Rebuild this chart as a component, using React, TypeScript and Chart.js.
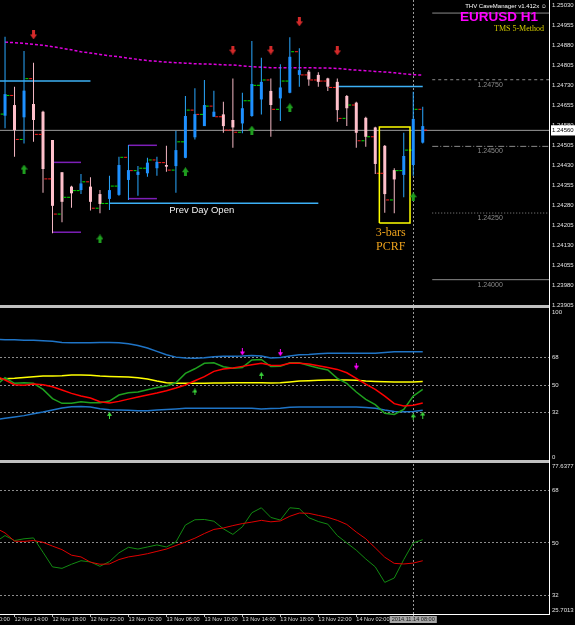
import { useEffect, useRef } from 'react';
import { Chart, registerables } from 'chart.js';

Chart.register(...registerables);

const FONT = '"Liberation Sans", Arial, sans-serif';
const SERIF = '"Liberation Serif", "Times New Roman", serif';

// ---------- time axis: one slot per H1 bar, bar 0 = 12 Nov 13:00 ----------
const X_MIN = -0.53;
const X_MAX = 57.3;
const X_TICK_BARS = [-3, 1, 5, 9, 13, 17, 21, 25, 29, 33, 37, 43];
const X_TICK_LABELS = [
  '12 Nov 10:00', '12 Nov 14:00', '12 Nov 18:00', '12 Nov 22:00', '13 Nov 02:00', '13 Nov 06:00',
  '13 Nov 10:00', '13 Nov 14:00', '13 Nov 18:00', '13 Nov 22:00', '14 Nov 02:00', '',
];
const CURSOR_BAR = 43;
const CURSOR_LABEL = '2014.11.14 08:00';

// ---------- price window ----------
const PRICE_MIN = 1.23905;
const PRICE_MAX = 1.25049;
const PRICE_TICKS = [
  1.23905, 1.2398, 1.24055, 1.2413, 1.24205, 1.2428, 1.24355, 1.2443,
  1.24505, 1.2458, 1.24655, 1.2473, 1.24805, 1.2488, 1.24955, 1.2503,
];
const BID_PRICE = 1.2456;

// Heiken Ashi candles
const HA_HIGH = [1.24911, 1.24724, 1.24858, 1.24814, 1.24634, 1.24524, 1.24403, 1.24352, 1.24396, 1.24384, 1.24336, 1.2439, 1.24461, 1.24505, 1.24426, 1.24457, 1.24461, 1.24502, 1.24559, 1.24689, 1.24718, 1.24749, 1.24709, 1.24667, 1.24755, 1.24701, 1.24895, 1.24832, 1.24755, 1.24808, 1.24909, 1.24868, 1.24786, 1.24778, 1.24757, 1.24755, 1.24693, 1.24667, 1.24611, 1.24574, 1.24505, 1.24418, 1.24551, 1.24705, 1.24649];
const HA_LOW = [1.24568, 1.24461, 1.24511, 1.24517, 1.24326, 1.24174, 1.24215, 1.2427, 1.24321, 1.24259, 1.24249, 1.24261, 1.24315, 1.24299, 1.24315, 1.24386, 1.2439, 1.24405, 1.24326, 1.24455, 1.24526, 1.24576, 1.24611, 1.24551, 1.24495, 1.24549, 1.24611, 1.2462, 1.24536, 1.24595, 1.24699, 1.24724, 1.24727, 1.24724, 1.24708, 1.24592, 1.24576, 1.24495, 1.24499, 1.24396, 1.24251, 1.24249, 1.24309, 1.2439, 1.24511];
const HA_OPEN = [1.24615, 1.24655, 1.24609, 1.24659, 1.2463, 1.24524, 1.24403, 1.24349, 1.24336, 1.24349, 1.24321, 1.24303, 1.24318, 1.24374, 1.24393, 1.24399, 1.24418, 1.2443, 1.24426, 1.24457, 1.24534, 1.24576, 1.24611, 1.2462, 1.24599, 1.24586, 1.24614, 1.24676, 1.24708, 1.2468, 1.24701, 1.24768, 1.2478, 1.24768, 1.24755, 1.24742, 1.24689, 1.24664, 1.24607, 1.24571, 1.24502, 1.24411, 1.24393, 1.2443, 1.24514];
const HA_CLOSE = [1.24696, 1.24561, 1.24709, 1.24599, 1.24415, 1.24277, 1.24292, 1.24324, 1.24361, 1.24292, 1.24284, 1.24336, 1.2443, 1.24411, 1.24405, 1.24439, 1.24442, 1.24424, 1.24486, 1.24614, 1.24621, 1.24655, 1.2463, 1.24576, 1.24571, 1.24643, 1.24734, 1.24742, 1.24655, 1.24721, 1.24836, 1.24786, 1.24751, 1.24742, 1.24724, 1.24636, 1.24643, 1.24551, 1.24536, 1.24434, 1.24321, 1.24376, 1.24464, 1.24603, 1.24576];

// real bar open / close ticks
const BAR_OPEN = [1.24621, 1.24691, 1.24526, 1.24754, 1.24545, 1.24378, 1.24246, 1.24309, 1.24334, 1.24367, 1.24268, 1.24286, 1.24351, 1.24459, 1.24409, 1.24418, 1.24449, 1.24439, 1.24411, 1.24517, 1.24636, 1.2462, 1.24651, 1.24611, 1.24561, 1.24553, 1.24671, 1.24729, 1.24749, 1.24639, 1.24745, 1.24855, 1.24768, 1.24749, 1.24745, 1.24721, 1.24605, 1.24655, 1.24521, 1.24536, 1.24399, 1.24299, 1.24409, 1.24486, 1.24639];
const BAR_CLOSE = [1.24691, 1.24526, 1.24754, 1.24545, 1.24378, 1.24246, 1.24309, 1.24334, 1.24367, 1.24268, 1.24286, 1.24351, 1.24459, 1.24409, 1.24418, 1.24449, 1.24439, 1.24411, 1.24517, 1.24636, 1.2462, 1.24651, 1.24611, 1.24561, 1.24553, 1.24671, 1.24729, 1.24749, 1.24639, 1.24745, 1.24855, 1.24768, 1.24749, 1.24745, 1.24721, 1.24605, 1.24655, 1.24521, 1.24536, 1.24399, 1.24299, 1.24409, 1.24486, 1.24639, 1.24561];

// moving average (magenta)
const MA_VALUES = [1.24891, 1.24889, 1.24886, 1.24883, 1.24879, 1.24874, 1.24868, 1.24862, 1.24855, 1.2485, 1.24845, 1.2484, 1.24836, 1.24831, 1.24826, 1.24822, 1.24819, 1.24816, 1.24814, 1.24812, 1.2481, 1.24809, 1.24808, 1.24806, 1.24805, 1.24802, 1.24799, 1.24797, 1.24795, 1.24795, 1.24795, 1.24795, 1.24795, 1.24794, 1.24794, 1.24792, 1.24789, 1.24786, 1.24784, 1.24781, 1.24779, 1.24776, 1.24772, 1.24769, 1.24767];

// round-number levels at the right
const LEVEL_PRICES = [1.25, 1.2475, 1.245, 1.2425, 1.24];
const LEVEL_LABELS = ['', '1.24750', '1.24500', '1.24250', '1.24000'];
const LEVEL_DASHES = [[], [3, 3], [6, 2, 1, 2], [1, 2], []];
const LEVEL_FROM_BAR = 45;
const LEVEL_LABEL_BAR = 51.1;

// light blue open levels
const BLUE_LEVEL_PRICES = [1.24745, 1.24725, 1.24287];
const BLUE_LEVEL_FROM = [X_MIN, 35, 11];
const BLUE_LEVEL_TO = [9, 44, 33];
const PDO_TEXT = 'Prev Day Open';
const PDO_LABEL_BAR = 17.3;

// purple range lines
const PURPLE_PRICES = [1.2444, 1.24178, 1.24504, 1.24304];
const PURPLE_FROM = [5, 5, 13, 13];
const PURPLE_TO = [8, 8, 16, 16];

// yellow 3-bar box
const BOX_BARS = [39.43, 42.66];
const BOX_PRICES = [1.24213, 1.24573];
const BOX_TEXT = ['3-bars', 'PCRF'];

// signal arrows on price
const SELL_BARS = [3, 24, 28, 31, 35];
const SELL_PRICES = [1.24918, 1.24861, 1.24861, 1.24967, 1.24858];
const BUY_BARS = [2, 10, 19, 26, 30, 43];
const BUY_PRICES = [1.24415, 1.24153, 1.24405, 1.24561, 1.24645, 1.24311];

// ---------- middle window (0..100), first value = bar -1 ----------
const IND_START = -1;
const MID_BAND_UP = [80.2, 79.9, 79.9, 79.6, 79.6, 79.2, 78.8, 78.1, 77.9, 77.9, 77.9, 78.1, 78.1, 77.9, 77.2, 76.1, 74.4, 72.2, 70.0, 68.4, 67.8, 67.6, 68.0, 68.7, 68.9, 68.9, 69.1, 69.5, 69.1, 67.8, 68.2, 69.1, 70.0, 70.2, 70.6, 70.9, 70.9, 70.9, 70.9, 70.9, 70.9, 71.5, 72.0, 72.0, 72.0, 72.0];
const MID_BAND_LO = [27.2, 28.0, 28.9, 29.8, 31.1, 32.2, 33.5, 34.8, 35.7, 35.9, 35.5, 34.4, 33.7, 33.5, 33.3, 33.1, 33.1, 33.5, 33.9, 34.2, 34.6, 34.6, 34.6, 34.6, 34.6, 34.6, 34.6, 34.6, 34.2, 34.5, 34.6, 35.3, 35.5, 35.5, 35.5, 35.5, 35.5, 35.5, 35.5, 35.1, 34.6, 33.5, 32.6, 32.4, 32.6, 33.3];
const MID_YELLOW = [54.0, 54.2, 54.4, 55.0, 55.5, 55.9, 55.9, 56.1, 56.6, 56.6, 56.4, 55.9, 55.7, 55.5, 55.3, 54.8, 53.9, 52.6, 51.5, 51.1, 51.1, 51.1, 51.1, 51.3, 51.3, 51.5, 51.5, 51.5, 51.5, 51.3, 51.5, 52.0, 52.6, 52.8, 53.1, 53.3, 53.3, 53.3, 53.1, 52.6, 52.4, 52.2, 52.0, 52.0, 52.0, 52.4];
const MID_RED = [56.1, 53.3, 50.2, 49.8, 50.6, 50.2, 48.9, 46.7, 44.5, 42.7, 41.4, 39.0, 38.1, 39.2, 40.7, 42.1, 43.4, 44.7, 46.2, 48.0, 50.0, 52.8, 55.5, 59.0, 60.5, 61.2, 62.3, 63.4, 64.3, 63.0, 62.9, 64.3, 64.3, 63.8, 62.7, 61.6, 60.3, 58.1, 54.4, 50.6, 47.1, 42.7, 37.7, 36.1, 36.6, 38.1];
const MID_GREEN = [49.5, 54.8, 51.1, 51.5, 51.1, 47.1, 41.0, 37.9, 37.9, 39.0, 38.3, 38.3, 39.4, 43.4, 44.9, 45.4, 46.9, 48.4, 49.3, 51.5, 57.7, 60.7, 64.3, 64.7, 62.1, 61.0, 61.6, 66.5, 66.9, 62.2, 62.3, 64.7, 64.7, 62.9, 61.2, 59.9, 54.4, 51.1, 45.4, 40.5, 37.0, 31.3, 30.6, 33.9, 42.7, 47.1];
const MID_SELL_BARS = [25, 29, 37];
const MID_SELL_VALUES = [71.8, 71.3, 62.5];
const MID_BUY_BARS = [11, 20, 27, 43, 44];
const MID_BUY_VALUES = [30.0, 45.4, 56.4, 29.0, 30.2];
const MID_MIN = -0.8;
const MID_MAX = 102.8;
const MID_LEVELS = [32, 50, 68];
const MID_TICK_VALUES = [2.5, 32, 50, 68, 98.18];
const MID_TICK_LABELS = ['0', '32', '50', '68', '100'];

// ---------- bottom window ----------
const STO_MIN = 25.7013;
const STO_MAX = 77.6377;
const STO_GREEN = [50.3, 52.5, 50.8, 51.4, 51.7, 46.8, 41.8, 41.3, 42.7, 43.9, 43.5, 42.0, 43.6, 46.6, 48.5, 47.9, 48.6, 49.3, 48.6, 50.3, 56.1, 57.9, 58.0, 57.4, 54.8, 52.9, 55.5, 60.3, 62.0, 58.7, 57.8, 62.0, 61.7, 58.6, 57.3, 56.4, 52.5, 50.0, 47.5, 44.5, 41.8, 36.5, 38.0, 44.3, 50.0, 51.1];
const STO_RED = [55.1, 53.4, 50.6, 50.5, 50.8, 50.2, 48.9, 47.7, 45.8, 45.2, 43.4, 42.7, 42.8, 44.3, 45.2, 45.7, 46.3, 47.1, 47.9, 49.1, 50.3, 51.6, 53.2, 54.6, 55.1, 55.9, 56.6, 57.1, 57.7, 57.2, 57.5, 59.1, 60.2, 60.1, 59.4, 58.7, 57.7, 56.3, 53.7, 51.4, 48.3, 45.1, 43.0, 42.8, 43.1, 43.9];
const STO_LEVELS = [32, 50, 68];
const STO_TICK_VALUES = [26.83, 32, 50, 68, 76.03];
const STO_TICK_LABELS = ['25.7013', '32', '50', '68', '77.6377'];

const SYMBOL_TITLE = 'EURUSD H1';
const INDICATOR_TITLE = 'THV CaveManager v1.412x ☺';
const METHOD_TITLE = 'TMS 5-Method';

const BULL = '#1e90ff';
const BULL_WICK = '#2aa8ff';
const BEAR = '#ffc0cb';
const BEAR_WICK = '#f3b7c3';

function makeArrow(color: string, dir: 'up' | 'down', w: number, h: number) {
  const c = document.createElement('canvas');
  c.width = w;
  c.height = h;
  const g = c.getContext('2d')!;
  g.fillStyle = color;
  const head = Math.round(h * 0.5);
  const s0 = Math.round(w * 0.3);
  const s1 = w - s0;
  g.beginPath();
  if (dir === 'up') {
    g.moveTo(w / 2, 0); g.lineTo(w, head); g.lineTo(s1, head); g.lineTo(s1, h);
    g.lineTo(s0, h); g.lineTo(s0, head); g.lineTo(0, head);
  } else {
    g.moveTo(w / 2, h); g.lineTo(w, h - head); g.lineTo(s1, h - head); g.lineTo(s1, 0);
    g.lineTo(s0, 0); g.lineTo(s0, h - head); g.lineTo(0, h - head);
  }
  g.closePath();
  g.fill();
  return c;
}

function seg(x0: number, x1: number, y: number, color: string, width: number, dash: number[], axis: string, order: number) {
  return {
    type: 'line', data: [{ x: x0, y }, { x: x1, y }], borderColor: color, borderWidth: width,
    borderDash: dash, pointRadius: 0, yAxisID: axis, xAxisID: 'x', order, fill: false, tension: 0,
  };
}

function series(values: number[], color: string, width: number, axis: string, order: number, dash: number[] = []) {
  return {
    type: 'line', data: values.map((v, k) => ({ x: k + IND_START, y: v })), borderColor: color,
    borderWidth: width, borderDash: dash, pointRadius: 0, yAxisID: axis, xAxisID: 'x', order, fill: false, tension: 0,
  };
}

function arrows(bars: number[], vals: number[], img: HTMLCanvasElement, axis: string) {
  return {
    type: 'scatter', data: bars.map((b, k) => ({ x: b, y: vals[k] })), pointStyle: img, pointRadius: 4,
    yAxisID: axis, xAxisID: 'x', order: 5,
  };
}

const overlayPlugin = {
  id: 'mt4Overlay',
  afterDraw(chart: any) {
    const { ctx, chartArea: a, scales } = chart;
    const sx = scales.x, sp = scales.yP, sm = scales.yM, sb = scales.yB;
    ctx.save();
    ctx.fillStyle = '#c0c0c0';
    ctx.fillRect(a.left, sm.top, a.right - a.left, 3);
    ctx.fillRect(a.left, sb.top - 2, a.right - a.left, 3);

    ctx.textAlign = 'center';
    ctx.textBaseline = 'middle';
    ctx.font = `7px ${FONT}`;
    ctx.fillStyle = '#8c8c8c';
    LEVEL_PRICES.forEach((p, k) => {
      if (LEVEL_LABELS[k]) ctx.fillText(LEVEL_LABELS[k], sx.getPixelForValue(LEVEL_LABEL_BAR), sp.getPixelForValue(p) + 5);
    });

    ctx.textAlign = 'left';
    ctx.font = `9.5px ${FONT}`;
    ctx.fillStyle = '#f0f0f0';
    ctx.fillText(PDO_TEXT, sx.getPixelForValue(PDO_LABEL_BAR), sp.getPixelForValue(BLUE_LEVEL_PRICES[2]) + 7.5);

    ctx.textAlign = 'center';
    ctx.font = `12px ${SERIF}`;
    ctx.fillStyle = '#eda21c';
    const bx = (sx.getPixelForValue(BOX_BARS[0]) + sx.getPixelForValue(BOX_BARS[1])) / 2 - 4;
    const by = sp.getPixelForValue(BOX_PRICES[0]);
    ctx.fillText(BOX_TEXT[0], bx, by + 10);
    ctx.fillText(BOX_TEXT[1], bx, by + 24);

    ctx.textAlign = 'right';
    ctx.font = `6px ${FONT}`;
    ctx.fillStyle = '#ffffff';
    ctx.fillText(INDICATOR_TITLE, a.right - 2, a.top + 6);
    ctx.font = `bold 13.5px ${FONT}`;
    ctx.fillStyle = '#ff00ff';
    ctx.fillText(SYMBOL_TITLE, a.right - 11, a.top + 17);
    ctx.font = `8px ${SERIF}`;
    ctx.fillStyle = '#d4cc00';
    ctx.fillText(METHOD_TITLE, a.right - 5, a.top + 29);

    ctx.font = `5.6px ${FONT}`;
    ctx.textAlign = 'center';
    const cx = sx.getPixelForValue(CURSOR_BAR);
    const tw = ctx.measureText(CURSOR_LABEL).width + 4;
    ctx.fillStyle = '#a6a6a6';
    ctx.fillRect(cx - tw / 2, sx.top + 2, tw, 7);
    ctx.fillStyle = '#1a1a1a';
    ctx.fillText(CURSOR_LABEL, cx, sx.top + 5.5);
    ctx.restore();
  },
};

export default function App() {
  const ref = useRef<HTMLCanvasElement>(null);

  useEffect(() => {
    const canvas = ref.current!;
    const sellBig = makeArrow('#d42a2a', 'down', 7, 9);
    const buyBig = makeArrow('#1f9e1f', 'up', 7, 9);
    const sellSmall = makeArrow('#ff00ff', 'down', 5, 7);
    const buySmall = makeArrow('#3ad43a', 'up', 5, 7);

    const bars = HA_OPEN.map((_, i) => i);
    const bull = bars.map((i) => HA_CLOSE[i] >= HA_OPEN[i]);
    const tickColors = bars.map((i) => (BAR_CLOSE[i] >= BAR_OPEN[i] ? '#00e000' : '#ff2020'));

    const datasets: any[] = [
      seg(X_MIN, X_MAX, BID_PRICE, '#9a9a9a', 1, [], 'yP', 100),
      ...LEVEL_PRICES.map((p, k) => seg(LEVEL_FROM_BAR, X_MAX, p, '#8a8a8a', 1, LEVEL_DASHES[k], 'yP', 95)),
      ...BLUE_LEVEL_PRICES.map((p, k) => seg(BLUE_LEVEL_FROM[k], BLUE_LEVEL_TO[k], p, '#3cb0f5', 1.5, [], 'yP', 90)),
      ...PURPLE_PRICES.map((p, k) => seg(PURPLE_FROM[k], PURPLE_TO[k], p, '#7d1fb8', 1.5, [], 'yP', 90)),
      {
        type: 'line', data: MA_VALUES.map((v, i) => ({ x: i, y: v })), borderColor: '#e000e0', borderWidth: 1.5,
        borderDash: [3, 2], pointRadius: 0, yAxisID: 'yP', xAxisID: 'x', order: 80, fill: false, tension: 0,
      },
      {
        type: 'bar', data: bars.map((i) => ({ x: i, y: [HA_LOW[i], HA_HIGH[i]] })),
        backgroundColor: bars.map((i) => (bull[i] ? BULL_WICK : BEAR_WICK)), barThickness: 1, grouped: false,
        borderWidth: 0, inflateAmount: 0, yAxisID: 'yP', xAxisID: 'x', order: 60,
      },
      {
        type: 'bar', data: bars.map((i) => ({ x: i, y: [HA_OPEN[i], HA_CLOSE[i]] })),
        backgroundColor: bars.map((i) => (bull[i] ? BULL : BEAR)), barThickness: 3, grouped: false,
        borderWidth: 0, inflateAmount: 0, yAxisID: 'yP', xAxisID: 'x', order: 50,
      },
      {
        type: 'scatter', data: bars.map((i) => ({ x: i - 0.3, y: BAR_OPEN[i] })), pointStyle: 'line',
        pointRadius: 1.5, pointBorderWidth: 1, pointBorderColor: tickColors, yAxisID: 'yP', xAxisID: 'x', order: 40,
      },
      {
        type: 'scatter', data: bars.map((i) => ({ x: i + 0.3, y: BAR_CLOSE[i] })), pointStyle: 'line',
        pointRadius: 1.5, pointBorderWidth: 1, pointBorderColor: tickColors, yAxisID: 'yP', xAxisID: 'x', order: 40,
      },
      {
        type: 'line',
        data: [
          { x: BOX_BARS[0], y: BOX_PRICES[0] }, { x: BOX_BARS[1], y: BOX_PRICES[0] },
          { x: BOX_BARS[1], y: BOX_PRICES[1] }, { x: BOX_BARS[0], y: BOX_PRICES[1] },
          { x: BOX_BARS[0], y: BOX_PRICES[0] },
        ],
        borderColor: '#ffff00', borderWidth: 1.5, pointRadius: 0, yAxisID: 'yP', xAxisID: 'x', order: 30,
        fill: false, tension: 0,
      },
      arrows(SELL_BARS, SELL_PRICES, sellBig, 'yP'),
      arrows(BUY_BARS, BUY_PRICES, buyBig, 'yP'),

      series(MID_BAND_UP, '#1f74c6', 1.5, 'yM', 60),
      series(MID_BAND_LO, '#1f74c6', 1.5, 'yM', 60),
      series(MID_YELLOW, '#ffff00', 1.5, 'yM', 55),
      series(MID_GREEN, '#1fa01f', 1.5, 'yM', 52),
      series(MID_RED, '#ff0000', 1.5, 'yM', 50),
      arrows(MID_SELL_BARS, MID_SELL_VALUES, sellSmall, 'yM'),
      arrows(MID_BUY_BARS, MID_BUY_VALUES, buySmall, 'yM'),

      series(STO_GREEN, '#128a12', 1, 'yB', 52),
      series(STO_RED, '#e00000', 1, 'yB', 50),
    ];

    const yTickFont = { family: FONT, size: 6 };
    const chart = new Chart(canvas, {
      type: 'bar',
      data: { datasets },
      options: {
        responsive: false,
        animation: false,
        devicePixelRatio: 1,
        events: [],
        layout: { padding: 0, autoPadding: false },
        plugins: { legend: { display: false }, tooltip: { enabled: false } },
        scales: {
          x: {
            type: 'linear', min: X_MIN, max: X_MAX, offset: false,
            afterBuildTicks: (s: any) => { s.ticks = X_TICK_BARS.map((v) => ({ value: v })); },
            afterFit: (s: any) => { s.height = 11; s.paddingLeft = 0; s.paddingRight = 0; },
            ticks: {
              autoSkip: false, maxRotation: 0, minRotation: 0, align: 'start', padding: -1, color: '#d8d8d8',
              font: { family: FONT, size: 5.6 }, callback: (_v: any, i: number) => X_TICK_LABELS[i],
            },
            grid: {
              offset: false, drawOnChartArea: true, lineWidth: 1, tickLength: 3, tickColor: '#b0b0b0',
              color: (c: any) => (c.tick && c.tick.value === CURSOR_BAR ? '#9a9a9a' : 'rgba(0,0,0,0)'),
            },
            border: { display: true, color: '#ffffff', width: 1, dash: [2, 2] },
          },
          yP: {
            type: 'linear', position: 'right', stack: 'panes', stackWeight: 305, min: PRICE_MIN, max: PRICE_MAX,
            afterBuildTicks: (s: any) => { s.ticks = [...PRICE_TICKS, BID_PRICE].map((v) => ({ value: v })); },
            afterFit: (s: any) => { s.width = 26; s.paddingTop = 0; s.paddingBottom = 0; },
            ticks: {
              autoSkip: false, padding: 3, font: yTickFont,
              color: (c: any) => (c.tick && c.tick.value === BID_PRICE ? '#000000' : '#e0e0e0'),
              showLabelBackdrop: (c: any) => !!c.tick && c.tick.value === BID_PRICE,
              backdropColor: '#ffffff', backdropPadding: { top: 1.5, bottom: 1.5, left: 1, right: 4 },
              callback: (v: any) => Number(v).toFixed(5),
            },
            grid: { display: false, drawTicks: false },
            border: { display: true, color: '#ffffff', width: 1 },
          },
          yM: {
            type: 'linear', position: 'right', stack: 'panes', stackWeight: 157, min: MID_MIN, max: MID_MAX,
            afterBuildTicks: (s: any) => { s.ticks = MID_TICK_VALUES.map((v) => ({ value: v })); },
            afterFit: (s: any) => { s.width = 26; s.paddingTop = 0; s.paddingBottom = 0; },
            ticks: { autoSkip: false, padding: 3, font: yTickFont, color: '#e0e0e0', callback: (_v: any, i: number) => MID_TICK_LABELS[i] },
            grid: {
              drawTicks: false, lineWidth: 1,
              color: (c: any) => (c.tick && MID_LEVELS.includes(c.tick.value) ? '#8c8c8c' : 'rgba(0,0,0,0)'),
            },
            border: { display: true, color: '#ffffff', width: 1, dash: [2, 2] },
          },
          yB: {
            type: 'linear', position: 'right', stack: 'panes', stackWeight: 152, min: STO_MIN, max: STO_MAX,
            afterBuildTicks: (s: any) => { s.ticks = STO_TICK_VALUES.map((v) => ({ value: v })); },
            afterFit: (s: any) => { s.width = 26; s.paddingTop = 0; s.paddingBottom = 0; },
            ticks: { autoSkip: false, padding: 3, font: yTickFont, color: '#e0e0e0', callback: (_v: any, i: number) => STO_TICK_LABELS[i] },
            grid: {
              drawTicks: false, lineWidth: 1,
              color: (c: any) => (c.tick && STO_LEVELS.includes(c.tick.value) ? '#8c8c8c' : 'rgba(0,0,0,0)'),
            },
            border: { display: true, color: '#ffffff', width: 1, dash: [2, 2] },
          },
        },
      } as any,
      plugins: [overlayPlugin],
    } as any);
    return () => chart.destroy();
  }, []);

  return (
    <div style={{ position: 'absolute', left: 0, top: 0, width: 575, height: 625, background: '#000' }}>
      <canvas ref={ref} width={575} height={625} style={{ display: 'block', background: '#000' }} />
    </div>
  );
}
